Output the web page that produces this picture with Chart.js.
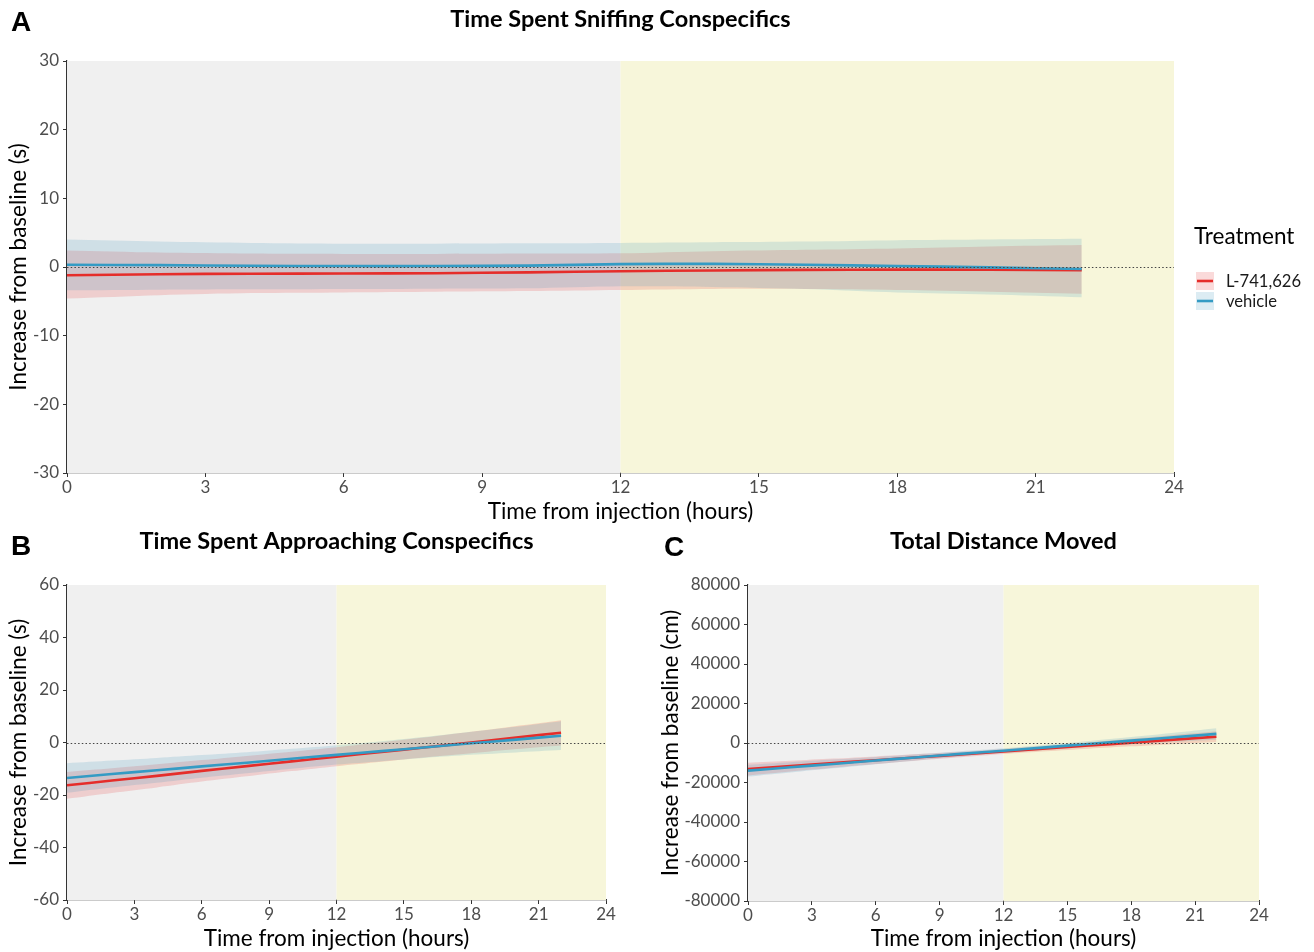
<!DOCTYPE html>
<html>
<head>
<meta charset="utf-8">
<script src="https://cdn.jsdelivr.net/npm/chart.js@4.4.1/dist/chart.umd.min.js"></script>
<style>
  html, body { margin: 0; padding: 0; background: #ffffff; }
  body { width: 1314px; height: 952px; position: relative; overflow: hidden; }
  canvas { position: absolute; display: block; }
</style>
</head>
<body>
<canvas id="panelA" width="1314" height="525" style="left:0;top:0;width:1314px;height:525px"></canvas>
<canvas id="panelB" width="657" height="427" style="left:0;top:525px;width:657px;height:427px"></canvas>
<canvas id="panelC" width="657" height="427" style="left:657px;top:525px;width:657px;height:427px"></canvas>
<script>
// Hours after injection at which the fitted curves are sampled
const hours = [0, 2, 4, 6, 8, 10, 12, 14, 16, 18, 20, 22];

// A: time spent sniffing conspecifics (s), fit and confidence band
const sniffL741      = [-1.20, -1.05, -0.98, -0.95, -0.90, -0.78, -0.62, -0.50, -0.42, -0.38, -0.40, -0.45];
const sniffL741Upper = [2.4, 2.1, 1.95, 1.9, 1.9, 1.95, 2.0, 2.3, 2.5, 2.7, 3.0, 3.2];
const sniffL741Lower = [-4.6, -4.1, -3.8, -3.7, -3.6, -3.5, -3.35, -3.2, -3.2, -3.35, -3.6, -3.9];
const sniffVehicle      = [0.32, 0.27, 0.18, 0.14, 0.14, 0.20, 0.42, 0.46, 0.32, 0.15, -0.05, -0.30];
const sniffVehicleUpper = [4.0, 3.7, 3.5, 3.4, 3.4, 3.45, 3.5, 3.6, 3.7, 3.9, 4.0, 4.1];
const sniffVehicleLower = [-3.4, -3.3, -3.25, -3.2, -3.15, -3.1, -2.8, -2.9, -3.2, -3.7, -4.0, -4.4];

// B: time spent approaching conspecifics (s)
const approachL741      = [-16.3, -14.5, -12.7, -10.8, -9.0, -7.2, -5.4, -3.6, -1.8, 0.0, 1.9, 3.7];
const approachL741Upper = [-11.2, -9.8, -8.3, -6.7, -5.1, -3.5, -1.8, 0.1, 2.0, 4.1, 6.3, 8.5];
const approachL741Lower = [-21.4, -19.2, -17.1, -14.9, -12.9, -10.9, -9.0, -7.3, -5.6, -4.1, -2.5, -1.1];
const approachVehicle      = [-13.5, -12.0, -10.6, -9.1, -7.7, -6.2, -4.7, -3.3, -1.8, -0.3, 1.1, 2.6];
const approachVehicleUpper = [-7.9, -6.9, -5.9, -4.8, -3.7, -2.4, -1.0, 0.5, 2.2, 4.1, 6.0, 8.1];
const approachVehicleLower = [-19.1, -17.1, -15.3, -13.4, -11.7, -10.0, -8.4, -7.1, -5.8, -4.7, -3.8, -2.9];

// C: total distance moved (cm)
const distanceL741      = [-13200, -11700, -10200, -8700, -7200, -5800, -4300, -2800, -1300, 200, 1700, 3200];
const distanceL741Upper = [-10000, -9000, -7900, -6800, -5600, -4400, -3000, -1400, 300, 2100, 4000, 5900];
const distanceL741Lower = [-16400, -14400, -12500, -10600, -8800, -7200, -5600, -4200, -2900, -1700, -600, 500];
const distanceVehicle      = [-14000, -12300, -10600, -8900, -7200, -5500, -3900, -2200, -500, 1200, 2900, 4600];
const distanceVehicleUpper = [-11000, -9700, -8400, -7100, -5700, -4200, -2700, -900, 1000, 3000, 5200, 7500];
const distanceVehicleLower = [-17000, -14900, -12800, -10700, -8700, -6800, -5100, -3500, -2000, -600, 600, 1700];

// Light phase / dark phase boundaries (hours)
const phaseBounds = [0, 12, 24];

const treatments = ['L-741,626', 'vehicle'];

const RED = 'rgb(229,45,42)';
const BLUE = 'rgb(52,155,196)';
const RED_BAND = 'rgba(230,60,60,0.19)';
const BLUE_BAND = 'rgba(60,150,190,0.18)';
const PHASE_FILL = ['#f0f0f0', '#f7f6da'];
const TEXT_FONT = 'Lato, "Open Sans", sans-serif';

function pts(ys) { return hours.map((h, i) => ({ x: h, y: ys[i] })); }

function datasets(l741, l741U, l741L, veh, vehU, vehL) {
  return [
    { label: treatments[1], data: pts(veh), borderColor: BLUE, borderWidth: 2.6, pointRadius: 0, fill: false, order: 0 },
    { label: treatments[0], data: pts(l741), borderColor: RED, borderWidth: 2.6, pointRadius: 0, fill: false, order: 1 },
    { label: 'vehicle upper', data: pts(vehU), borderWidth: 0, borderColor: 'transparent', pointRadius: 0, fill: '+1', backgroundColor: BLUE_BAND, order: 2 },
    { label: 'vehicle lower', data: pts(vehL), borderWidth: 0, borderColor: 'transparent', pointRadius: 0, fill: false, order: 2 },
    { label: 'L upper', data: pts(l741U), borderWidth: 0, borderColor: 'transparent', pointRadius: 0, fill: '+1', backgroundColor: RED_BAND, order: 3 },
    { label: 'L lower', data: pts(l741L), borderWidth: 0, borderColor: 'transparent', pointRadius: 0, fill: false, order: 3 }
  ];
}

// Shaded light/dark phases behind the data
const phasePlugin = {
  id: 'phases',
  beforeDatasetsDraw(chart) {
    const { ctx, chartArea: a, scales: { x } } = chart;
    ctx.save();
    for (let i = 0; i < phaseBounds.length - 1; i++) {
      const x0 = x.getPixelForValue(phaseBounds[i]);
      const x1 = x.getPixelForValue(phaseBounds[i + 1]);
      ctx.fillStyle = PHASE_FILL[i];
      ctx.fillRect(x0, a.top, x1 - x0, a.bottom - a.top);
    }
    ctx.restore();
  }
};

// Dotted reference line at zero change
const zeroLinePlugin = {
  id: 'zeroLine',
  afterDatasetsDraw(chart) {
    const { ctx, chartArea: a, scales: { y } } = chart;
    const yy = Math.round(y.getPixelForValue(0)) + 0.5;
    ctx.save();
    ctx.strokeStyle = '#444';
    ctx.lineWidth = 1.2;
    ctx.setLineDash([1.5, 2.2]);
    ctx.beginPath();
    ctx.moveTo(a.left, yy);
    ctx.lineTo(a.right, yy);
    ctx.stroke();
    ctx.restore();
  }
};

// Panel title centred over the plot area, plus panel letter
function headerPlugin(title, titleY, letter, letterX, letterY) {
  return {
    id: 'header',
    afterDraw(chart) {
      const { ctx, chartArea: a } = chart;
      ctx.save();
      ctx.fillStyle = '#000';
      ctx.textBaseline = 'middle';
      ctx.textAlign = 'center';
      ctx.font = 'bold 23.5px ' + TEXT_FONT;
      ctx.fillText(title, (a.left + a.right) / 2, titleY);
      ctx.textAlign = 'left';
      ctx.font = 'bold 28px "Liberation Sans", Arial, sans-serif';
      ctx.fillText(letter, letterX, letterY);
      ctx.restore();
    }
  };
}

// Treatment legend beside panel A
const legendPlugin = {
  id: 'treatmentLegend',
  afterDraw(chart) {
    const { ctx } = chart;
    ctx.save();
    ctx.textBaseline = 'middle';
    ctx.textAlign = 'left';
    ctx.fillStyle = '#000';
    ctx.font = '22.5px ' + TEXT_FONT;
    ctx.fillText('Treatment', 1194, 237);
    const rows = [
      { band: RED_BAND, line: RED, y: 272, text: treatments[0] },
      { band: BLUE_BAND, line: BLUE, y: 292, text: treatments[1] }
    ];
    rows.forEach(r => {
      ctx.fillStyle = r.band;
      ctx.fillRect(1196, r.y, 18, 18);
      ctx.strokeStyle = r.line;
      ctx.lineWidth = 2.6;
      ctx.beginPath();
      ctx.moveTo(1197, r.y + 9);
      ctx.lineTo(1213, r.y + 9);
      ctx.stroke();
      ctx.fillStyle = '#1a1a1a';
      ctx.font = '16.6px ' + TEXT_FONT;
      ctx.fillText(r.text, 1226, r.y + 10);
    });
    ctx.restore();
  }
};

function axisCommon() {
  return {
    grid: { display: true, drawOnChartArea: false, drawTicks: true, tickLength: 4, color: '#333', lineWidth: 1 },
    border: { display: true, color: '#333', width: 1.2 },
    ticks: { color: '#4d4d4d', font: { family: TEXT_FONT, size: 17 }, padding: 4 }
  };
}

function makeChart(id, cfg) {
  const xAxis = axisCommon();
  xAxis.type = 'linear';
  xAxis.min = 0; xAxis.max = 24;
  xAxis.ticks.stepSize = 3;
  xAxis.ticks.padding = 0;
  xAxis.title = { display: true, text: 'Time from injection (hours)', color: '#000', font: { family: TEXT_FONT, size: 22.5 }, padding: { top: 0, bottom: 0 } };
  xAxis.afterFit = s => { s.height = cfg.xHeight; };

  const yAxis = axisCommon();
  yAxis.min = cfg.yMin; yAxis.max = cfg.yMax;
  yAxis.ticks.stepSize = cfg.yStep;
  yAxis.ticks.callback = v => String(v);
  yAxis.title = { display: true, text: cfg.yTitle, color: '#000', font: { family: TEXT_FONT, size: 22.5 }, padding: { top: cfg.yTitlePad, bottom: 0 } };
  yAxis.afterFit = s => { s.width = cfg.yWidth; };

  return new Chart(document.getElementById(id), {
    type: 'line',
    data: { datasets: cfg.datasets },
    options: {
      responsive: false,
      animation: false,
      devicePixelRatio: 1,
      layout: { padding: { left: 0, top: cfg.top, right: cfg.right, bottom: 0 } },
      elements: { line: { tension: 0.3 } },
      plugins: { legend: { display: false }, tooltip: { enabled: false }, filler: { propagate: false } },
      scales: { x: xAxis, y: yAxis }
    },
    plugins: [phasePlugin, zeroLinePlugin, cfg.header].concat(cfg.extra || [])
  });
}

makeChart('panelA', {
  datasets: datasets(sniffL741, sniffL741Upper, sniffL741Lower, sniffVehicle, sniffVehicleUpper, sniffVehicleLower),
  yMin: -30, yMax: 30, yStep: 10,
  yTitle: 'Increase from baseline (s)', yTitlePad: 5, yWidth: 67,
  top: 61, right: 140, xHeight: 52,
  header: headerPlugin('Time Spent Sniffing Conspecifics', 19, 'A', 11, 23),
  extra: [legendPlugin]
});

makeChart('panelB', {
  datasets: datasets(approachL741, approachL741Upper, approachL741Lower, approachVehicle, approachVehicleUpper, approachVehicleLower),
  yMin: -60, yMax: 60, yStep: 20,
  yTitle: 'Increase from baseline (s)', yTitlePad: 5, yWidth: 67,
  top: 60, right: 51, xHeight: 52,
  header: headerPlugin('Time Spent Approaching Conspecifics', 16, 'B', 11, 22)
});

makeChart('panelC', {
  datasets: datasets(distanceL741, distanceL741Upper, distanceL741Lower, distanceVehicle, distanceVehicleUpper, distanceVehicleLower),
  yMin: -80000, yMax: 80000, yStep: 20000,
  yTitle: 'Increase from baseline (cm)', yTitlePad: 0, yWidth: 91,
  top: 60, right: 55, xHeight: 51,
  header: headerPlugin('Total Distance Moved', 16, 'C', 7, 23)
});
</script>
</body>
</html>
